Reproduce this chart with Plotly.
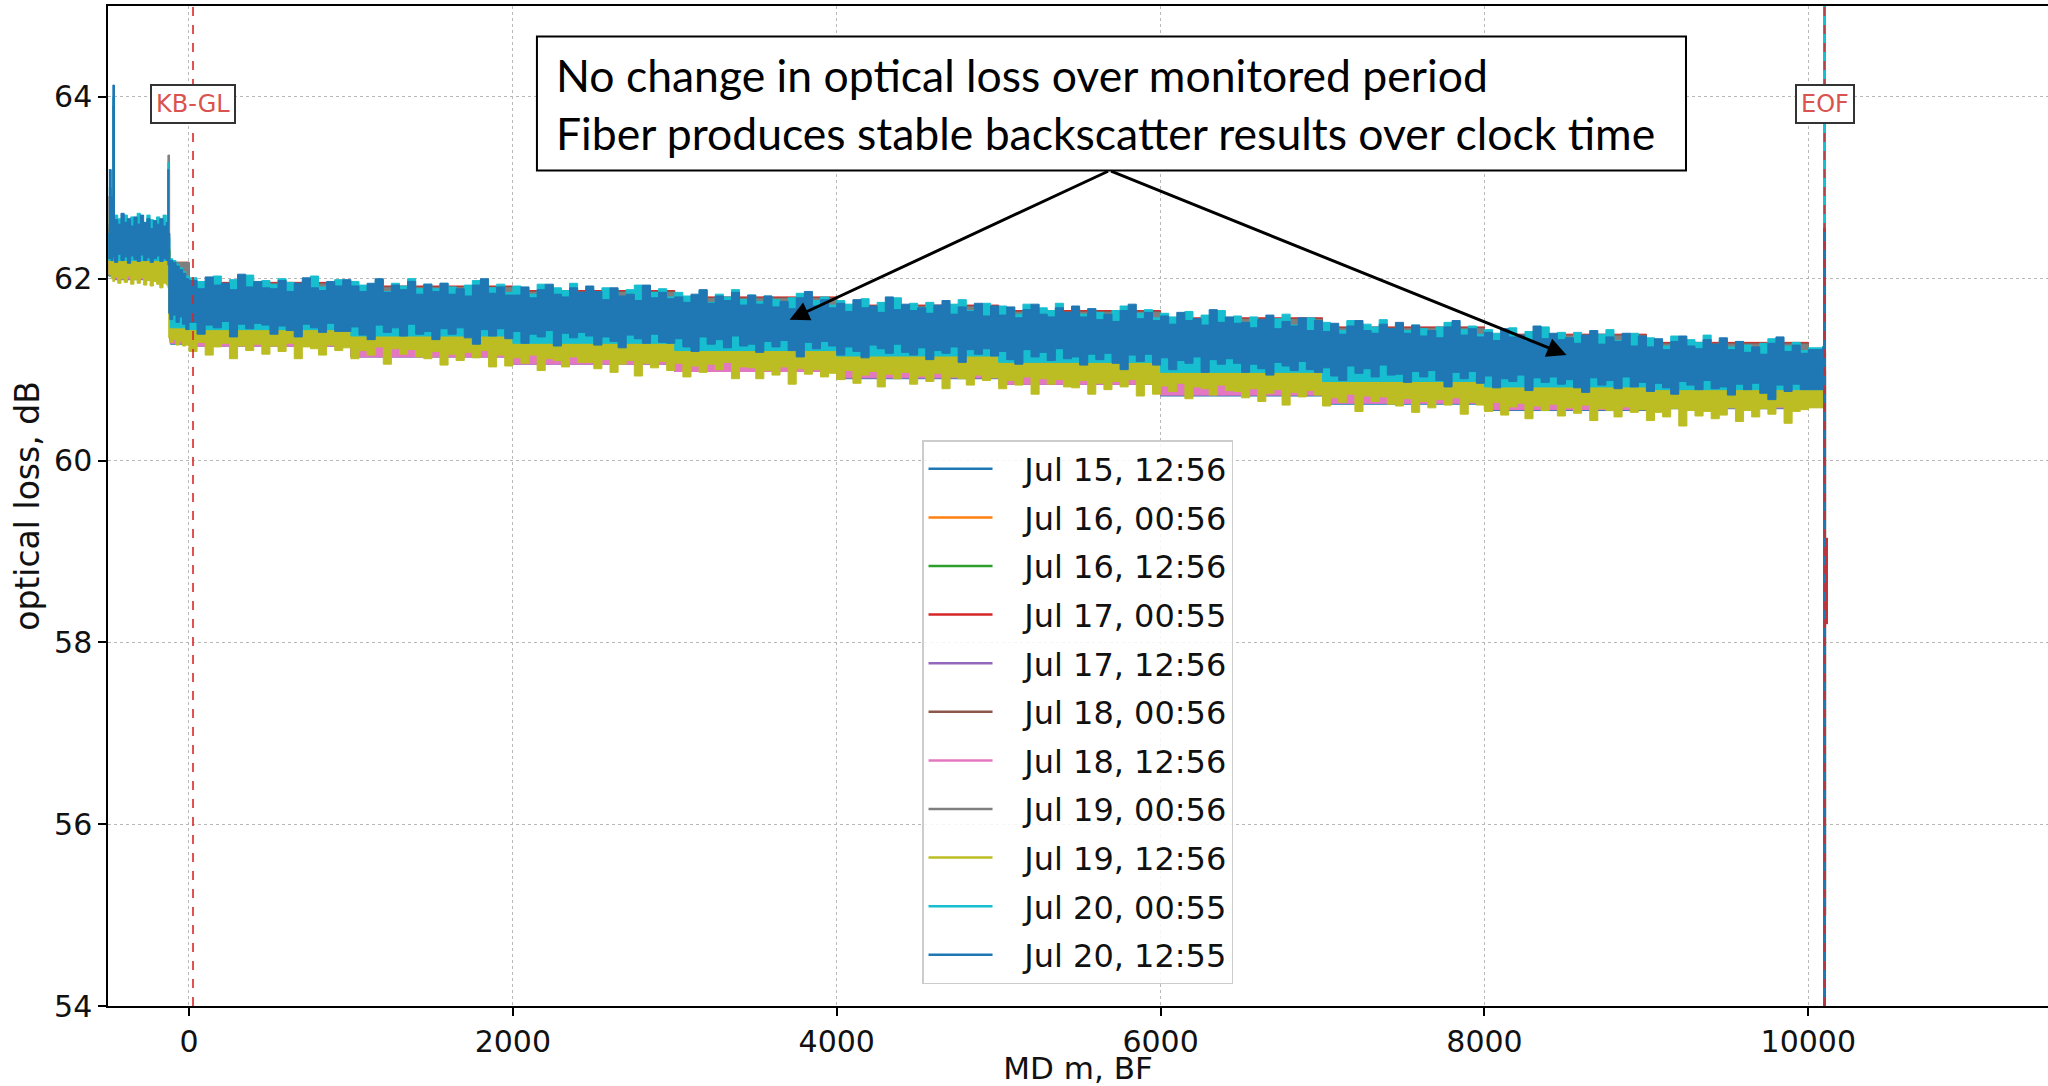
import plotly.graph_objects as go

# ---------------- data ----------------
SERIES_NAMES = ["Jul 15, 12:56", "Jul 16, 00:56", "Jul 16, 12:56", "Jul 17, 00:55",
                "Jul 17, 12:56", "Jul 18, 00:56", "Jul 18, 12:56", "Jul 19, 00:56",
                "Jul 19, 12:56", "Jul 20, 00:55", "Jul 20, 12:55"]
COLORS = ["#1f77b4", "#ff7f0e", "#2ca02c", "#d62728", "#9467bd", "#8c564b",
          "#e377c2", "#7f7f7f", "#bcbd22", "#17becf", "#1f77b4"]

X_TICKS = [0, 2000, 4000, 6000, 8000, 10000]
X_TICK_TEXT = ["0", "2000", "4000", "6000", "8000", "10000"]
Y_TICKS = [54, 56, 58, 60, 62, 64]

# fine sampling positions (MD m) for the visible envelopes
X_FINE = ([-495, -480, -470, -460, -440, -420, -400, -380, -360, -340, -320, -300,
           -280, -260, -240, -220, -200, -180, -160, -140, -130, -125, -118, -100,
           -80, -60, -40, -20] + list(range(0, 10001, 50)) + [10090])

# Jul 20, 12:55 trace: upper / lower envelope
BLUE_HI = [63.2, 62.9, 64.13, 62.65, 62.6, 62.72, 62.62, 62.66, 62.58, 62.68, 62.6, 62.7,
           62.62, 62.66, 62.55, 62.64, 62.6, 62.66, 62.58, 62.62, 63.2, 62.5, 62.2, 62.18,
           62.14, 62.1, 62.06, 62.0,
           61.98, 61.89, 62.02, 61.93, 61.95, 61.88, 62.05, 61.91, 61.97, 61.90,
           61.89, 61.98, 61.86, 61.95, 62.01, 61.90, 61.87, 61.97, 61.92, 61.99,
           61.92, 61.86, 61.95, 62.00, 61.85, 61.93, 61.88, 61.97, 61.83, 61.94,
           61.86, 61.95, 61.83, 61.89, 61.81, 61.93, 62.00, 61.84, 61.91, 61.82,
           61.82, 61.91, 61.79, 61.88, 61.94, 61.83, 61.80, 61.90, 61.85, 61.92,
           61.86, 61.77, 61.90, 61.81, 61.83, 61.76, 61.93, 61.79, 61.85, 61.78,
           61.80, 61.74, 61.83, 61.88, 61.73, 61.81, 61.76, 61.85, 61.71, 61.82,
           61.72, 61.81, 61.69, 61.75, 61.67, 61.79, 61.86, 61.70, 61.77, 61.68,
           61.73, 61.64, 61.77, 61.68, 61.70, 61.63, 61.80, 61.66, 61.72, 61.65,
           61.68, 61.62, 61.71, 61.76, 61.61, 61.69, 61.64, 61.73, 61.59, 61.70,
           61.60, 61.69, 61.57, 61.66, 61.72, 61.61, 61.58, 61.68, 61.63, 61.70,
           61.58, 61.67, 61.55, 61.61, 61.53, 61.65, 61.72, 61.56, 61.63, 61.54,
           61.59, 61.50, 61.63, 61.54, 61.56, 61.49, 61.66, 61.52, 61.58, 61.51,
           61.52, 61.46, 61.55, 61.60, 61.45, 61.53, 61.48, 61.57, 61.43, 61.54,
           61.42, 61.51, 61.39, 61.48, 61.54, 61.43, 61.40, 61.50, 61.45, 61.52,
           61.40, 61.49, 61.37, 61.43, 61.35, 61.47, 61.54, 61.38, 61.45, 61.36,
           61.41, 61.32, 61.45, 61.36, 61.38, 61.31, 61.48, 61.34, 61.40, 61.33,
           61.35, 61.29, 61.38, 61.43, 61.28, 61.36, 61.31, 61.40, 61.26, 61.37,
           61.25, 61.34, 61.22, 61.31, 61.37, 61.26, 61.23, 61.33, 61.28, 61.35,
           61.22, 61.31, 61.19, 61.25, 61.17, 61.29, 61.36, 61.20, 61.27, 61.18,
           61.22, 61.25]
BLUE_LO = [62.5, 62.22, 62.2, 62.24, 62.18, 62.27, 62.2, 62.24, 62.17, 62.25, 62.21, 62.19,
           62.26, 62.2, 62.23, 62.18, 62.22, 62.25, 62.19, 62.22, 62.2, 62.15, 61.62, 61.55,
           61.6, 61.52, 61.58, 61.5,
           61.44, 61.52, 61.39, 61.49, 61.46, 61.53, 61.36, 61.50, 61.45, 61.51,
           61.49, 61.39, 61.48, 61.43, 61.36, 61.50, 61.46, 61.41, 61.51, 61.42,
           61.42, 61.47, 61.38, 61.33, 61.49, 61.41, 61.46, 61.37, 61.50, 61.39,
           61.42, 61.33, 61.45, 61.39, 61.46, 61.35, 61.28, 61.44, 61.37, 61.45,
           61.34, 61.42, 61.29, 61.39, 61.36, 61.43, 61.26, 61.40, 61.35, 61.41,
           61.37, 61.27, 61.36, 61.31, 61.24, 61.38, 61.34, 61.29, 61.39, 61.30,
           61.29, 61.34, 61.25, 61.20, 61.36, 61.28, 61.33, 61.24, 61.37, 61.26,
           61.28, 61.19, 61.31, 61.25, 61.32, 61.21, 61.14, 61.30, 61.23, 61.31,
           61.26, 61.16, 61.25, 61.20, 61.13, 61.27, 61.23, 61.18, 61.28, 61.19,
           61.16, 61.24, 61.11, 61.21, 61.18, 61.25, 61.08, 61.22, 61.17, 61.23,
           61.15, 61.20, 61.11, 61.06, 61.22, 61.14, 61.19, 61.10, 61.23, 61.12,
           61.14, 61.05, 61.17, 61.11, 61.18, 61.07, 61.00, 61.16, 61.09, 61.17,
           61.05, 61.13, 61.00, 61.10, 61.07, 61.14, 60.97, 61.11, 61.06, 61.12,
           61.07, 60.97, 61.06, 61.01, 60.94, 61.08, 61.04, 60.99, 61.09, 61.00,
           60.97, 61.02, 60.93, 60.88, 61.04, 60.96, 61.01, 60.92, 61.05, 60.94,
           60.95, 60.86, 60.98, 60.92, 60.99, 60.88, 60.81, 60.97, 60.90, 60.98,
           60.85, 60.93, 60.80, 60.90, 60.87, 60.94, 60.77, 60.91, 60.86, 60.92,
           60.84, 60.89, 60.80, 60.75, 60.91, 60.83, 60.88, 60.79, 60.92, 60.81,
           60.86, 60.76, 60.85, 60.80, 60.73, 60.87, 60.83, 60.78, 60.88, 60.79,
           60.81, 60.72, 60.84, 60.78, 60.85, 60.74, 60.67, 60.83, 60.76, 60.84,
           60.78, 60.78]
# Jul 20, 00:55 trace: upper envelope
CYAN_HI = [63.0, 62.8, 64.0, 62.7, 62.66, 62.6, 62.7, 62.62, 62.68, 62.6, 62.72, 62.64,
           62.6, 62.7, 62.65, 62.58, 62.68, 62.62, 62.7, 62.6, 63.28, 62.45, 62.22, 62.2,
           62.16, 62.12, 62.08, 62.03,
           62.01, 61.97, 61.92, 62.03, 61.90, 61.99, 61.96, 62.04, 61.93, 61.98,
           61.94, 62.00, 61.96, 61.89, 61.98, 62.03, 61.91, 61.95, 61.99, 61.90,
           61.97, 61.93, 61.88, 61.99, 61.86, 61.95, 61.92, 62.00, 61.89, 61.94,
           61.89, 61.95, 61.91, 61.84, 61.93, 61.98, 61.86, 61.90, 61.94, 61.85,
           61.92, 61.88, 61.83, 61.94, 61.81, 61.90, 61.87, 61.95, 61.84, 61.89,
           61.84, 61.90, 61.86, 61.79, 61.88, 61.93, 61.81, 61.85, 61.89, 61.80,
           61.85, 61.81, 61.76, 61.87, 61.74, 61.83, 61.80, 61.88, 61.77, 61.82,
           61.75, 61.81, 61.77, 61.70, 61.79, 61.84, 61.72, 61.76, 61.80, 61.71,
           61.76, 61.72, 61.67, 61.78, 61.65, 61.74, 61.71, 61.79, 61.68, 61.73,
           61.68, 61.74, 61.70, 61.63, 61.72, 61.77, 61.65, 61.69, 61.73, 61.64,
           61.70, 61.66, 61.61, 61.72, 61.59, 61.68, 61.65, 61.73, 61.62, 61.67,
           61.61, 61.67, 61.63, 61.56, 61.65, 61.70, 61.58, 61.62, 61.66, 61.57,
           61.62, 61.58, 61.53, 61.64, 61.51, 61.60, 61.57, 61.65, 61.54, 61.59,
           61.52, 61.58, 61.54, 61.47, 61.56, 61.61, 61.49, 61.53, 61.57, 61.48,
           61.52, 61.48, 61.43, 61.54, 61.41, 61.50, 61.47, 61.55, 61.44, 61.49,
           61.43, 61.49, 61.45, 61.38, 61.47, 61.52, 61.40, 61.44, 61.48, 61.39,
           61.44, 61.40, 61.35, 61.46, 61.33, 61.42, 61.39, 61.47, 61.36, 61.41,
           61.35, 61.41, 61.37, 61.30, 61.39, 61.44, 61.32, 61.36, 61.40, 61.31,
           61.35, 61.31, 61.26, 61.37, 61.24, 61.33, 61.30, 61.38, 61.27, 61.32,
           61.25, 61.31, 61.27, 61.20, 61.29, 61.34, 61.22, 61.26, 61.30, 61.21,
           61.24, 61.26]
# Jul 19, 12:56 trace: lower envelope
OLIVE_LO = [62.4, 62.05, 62.0, 61.97, 62.02, 61.95, 62.0, 61.96, 62.03, 61.94, 61.99, 61.95,
            62.01, 61.93, 61.98, 61.92, 61.97, 61.94, 61.9, 61.95, 61.93, 61.9, 61.35, 61.3,
            61.33, 61.27, 61.31, 61.26,
            61.27, 61.20, 61.30, 61.16, 61.25, 61.29, 61.12, 61.26, 61.21, 61.28,
            61.17, 61.26, 61.20, 61.29, 61.12, 61.25, 61.23, 61.16, 61.27, 61.21,
            61.24, 61.12, 61.21, 61.16, 61.25, 61.06, 61.23, 61.17, 61.22, 61.14,
            61.12, 61.20, 61.05, 61.17, 61.10, 61.19, 61.13, 61.21, 61.03, 61.16,
            61.04, 61.13, 61.07, 61.16, 60.99, 61.12, 61.10, 61.03, 61.14, 61.08,
            61.08, 61.01, 61.11, 60.97, 61.06, 61.10, 60.93, 61.07, 61.02, 61.09,
            60.99, 61.07, 60.92, 61.04, 60.97, 61.06, 61.00, 61.08, 60.90, 61.03,
            61.02, 60.90, 60.99, 60.94, 61.03, 60.84, 61.01, 60.95, 61.00, 60.92,
            60.96, 60.89, 60.99, 60.85, 60.94, 60.98, 60.81, 60.95, 60.90, 60.97,
            60.84, 60.93, 60.87, 60.96, 60.79, 60.92, 60.90, 60.83, 60.94, 60.88,
            60.91, 60.79, 60.88, 60.83, 60.92, 60.73, 60.90, 60.84, 60.89, 60.81,
            60.80, 60.88, 60.73, 60.85, 60.78, 60.87, 60.81, 60.89, 60.71, 60.84,
            60.73, 60.82, 60.76, 60.85, 60.68, 60.81, 60.79, 60.72, 60.83, 60.77,
            60.76, 60.69, 60.79, 60.65, 60.74, 60.78, 60.61, 60.75, 60.70, 60.77,
            60.72, 60.60, 60.69, 60.64, 60.73, 60.54, 60.71, 60.65, 60.70, 60.62,
            60.60, 60.68, 60.53, 60.65, 60.58, 60.67, 60.61, 60.69, 60.51, 60.64,
            60.61, 60.54, 60.64, 60.50, 60.59, 60.63, 60.46, 60.60, 60.55, 60.62,
            60.49, 60.58, 60.52, 60.61, 60.44, 60.57, 60.55, 60.48, 60.59, 60.53,
            60.56, 60.44, 60.53, 60.48, 60.57, 60.38, 60.55, 60.49, 60.54, 60.46,
            60.50, 60.58, 60.43, 60.55, 60.48, 60.57, 60.51, 60.59, 60.41, 60.54,
            60.56, 60.58]

# coarse sampling positions for the (mostly hidden) envelopes
KX = [-495, -480, -470, -460, -140, -130, -120, -115, 0, 1000, 2000, 3000, 4000,
      5000, 6000, 7000, 8000, 9000, 10000, 10090]
CYAN_LO = [62.5, 62.2, 62.2, 62.2, 62.2, 62.2, 62.2, 61.6, 61.46, 61.44, 61.37, 61.29,
           61.21, 61.15, 61.08, 60.97, 60.87, 60.81, 60.78, 60.78]
ORANGE_HI = [62.9, 62.6, 63.9, 62.6, 62.6, 63.2, 62.28, 62.18, 61.94, 61.90, 61.85, 61.78,
             61.69, 61.63, 61.55, 61.45, 61.37, 61.28, 61.19, 61.19]
ORANGE_LO = [62.55, 62.26, 62.26, 62.26, 62.26, 62.26, 62.26, 61.66, 61.52, 61.50, 61.43, 61.35,
             61.27, 61.21, 61.14, 61.03, 60.93, 60.87, 60.84, 60.84]
RED_HI = [62.9, 62.6, 63.9, 62.6, 62.6, 63.2, 62.28, 62.18, 61.96, 61.92, 61.87, 61.80,
          61.71, 61.65, 61.57, 61.47, 61.39, 61.30, 61.21, 61.21]
RED_LO = [62.55, 62.25, 62.25, 62.25, 62.25, 62.25, 62.25, 61.65, 61.51, 61.49, 61.42, 61.34,
          61.26, 61.2, 61.13, 61.02, 60.92, 60.86, 60.83, 60.83]
BROWN_HI = [62.9, 62.6, 63.9, 62.6, 62.6, 63.2, 62.28, 62.18, 61.95, 61.91, 61.86, 61.79,
            61.70, 61.64, 61.56, 61.46, 61.38, 61.29, 61.20, 61.20]
BROWN_LO = [62.56, 62.27, 62.27, 62.27, 62.27, 62.27, 62.27, 61.67, 61.53, 61.51, 61.44, 61.36,
            61.28, 61.22, 61.15, 61.04, 60.94, 60.88, 60.85, 60.85]
GRAY_HI = [62.9, 62.6, 63.9, 62.6, 62.6, 63.36, 62.28, 62.18, 61.94, 61.90, 61.85, 61.78,
           61.69, 61.63, 61.55, 61.45, 61.37, 61.28, 61.19, 61.19]
GRAY_LO = [62.55, 62.26, 62.26, 62.26, 62.26, 62.26, 62.26, 61.66, 61.52, 61.5, 61.43, 61.35,
           61.27, 61.21, 61.14, 61.03, 60.93, 60.87, 60.84, 60.84]
OLIVE_HI = [62.7, 62.32, 62.32, 62.32, 62.32, 62.32, 62.32, 61.72, 61.58, 61.56, 61.49, 61.41,
            61.33, 61.27, 61.2, 61.09, 60.99, 60.93, 60.9, 60.9]
JUL15_HI = [62.6, 62.28, 62.28, 62.28, 62.28, 62.28, 62.28, 61.68, 61.54, 61.52, 61.45, 61.37,
            61.29, 61.23, 61.16, 61.05, 60.95, 60.89, 60.86, 60.86]
JUL15_LO = [62.44, 62.03, 62.03, 62.0, 61.99, 61.97, 61.93, 61.33, 61.28, 61.26, 61.14, 61.06,
            60.98, 60.9, 60.84, 60.71, 60.62, 60.55, 60.57, 60.59]
GREEN_HI = [62.6, 62.28, 62.28, 62.28, 62.28, 62.28, 62.28, 61.68, 61.54, 61.52, 61.45, 61.37,
            61.29, 61.23, 61.16, 61.05, 60.95, 60.89, 60.86, 60.86]
GREEN_LO = [62.46, 62.03, 62.05, 62.03, 62.01, 61.99, 61.96, 61.38, 61.3, 61.27, 61.15, 61.07,
            60.99, 60.92, 60.85, 60.73, 60.64, 60.57, 60.59, 60.61]
PURPLE_HI = [62.6, 62.28, 62.28, 62.28, 62.28, 62.28, 62.28, 61.68, 61.54, 61.52, 61.45, 61.37,
             61.29, 61.23, 61.16, 61.05, 60.95, 60.89, 60.86, 60.86]
PURPLE_LO = [62.45, 62.05, 62.04, 62.02, 61.99, 61.97, 61.95, 61.37, 61.29, 61.26, 61.14, 61.07,
             60.98, 60.91, 60.84, 60.72, 60.63, 60.56, 60.58, 60.6]
PINK_HI = [62.6, 62.28, 62.28, 62.28, 62.28, 62.28, 62.28, 61.68, 61.54, 61.52, 61.45, 61.37,
           61.29, 61.23, 61.16, 61.05, 60.95, 60.89, 60.86, 60.86]
PINK_LO = [62.45, 62.04, 62.04, 62.01, 62.0, 61.98, 61.95, 61.37, 61.29, 61.26, 61.14, 61.06,
           60.98, 60.91, 60.84, 60.72, 60.63, 60.56, 60.58, 60.6]

# end-of-fibre drop/spike of each trace
END_X = [10100, 10100, 10100, 10112, 10100, 10100, 10100, 10100, 10100, 10100, 10100]
END_HI = [61.0, 61.2, 61.0, 59.15, 61.0, 61.2, 61.0, 61.2, 60.9, 66.0, 62.56]
END_LO = [55.0, 55.0, 55.2, 58.2, 55.0, 55.0, 55.0, 55.0, 55.0, 54.5, 50.0]

MARKERS = ["KB-GL", "EOF"]
MARKER_X = [25, 10100]
MARKER_LABEL_Y = 63.92

NOTE_TEXT = ("No change in optical loss over monitored period<br>"
             "Fiber produces stable backscatter results over clock time")
ARROW_TAIL = (5685, 63.19)
ARROW_HEADS_X = [3709, 8507]
ARROW_HEADS_Y = [61.55, 61.16]

# ---------------- envelopes per series ----------------
envelopes = [
    (KX, JUL15_HI, KX, JUL15_LO),
    (KX, ORANGE_HI, KX, ORANGE_LO),
    (KX, GREEN_HI, KX, GREEN_LO),
    (KX, RED_HI, KX, RED_LO),
    (KX, PURPLE_HI, KX, PURPLE_LO),
    (KX, BROWN_HI, KX, BROWN_LO),
    (KX, PINK_HI, KX, PINK_LO),
    (KX, GRAY_HI, KX, GRAY_LO),
    (KX, OLIVE_HI, X_FINE, OLIVE_LO),
    (X_FINE, CYAN_HI, KX, CYAN_LO),
    (X_FINE, BLUE_HI, X_FINE, BLUE_LO),
]

FONT = "DejaVu Sans"
fig = go.Figure()

for i, (name, col) in enumerate(zip(SERIES_NAMES, COLORS)):
    xh, yh, xl, yl = envelopes[i]
    px = list(xh) + list(reversed(xl))
    py = list(yh) + list(reversed(yl))
    fig.add_trace(go.Scatter(x=px, y=py, mode="lines", fill="toself", fillcolor=col,
                             line=dict(color=col, width=1, shape="hv"), showlegend=False,
                             hoverinfo="skip"))
    fig.add_trace(go.Scatter(x=[END_X[i], END_X[i]], y=[END_HI[i], END_LO[i]], mode="lines",
                             line=dict(color=col, width=3), showlegend=False,
                             hoverinfo="skip"))

# legend entries
for i, (name, col) in enumerate(zip(SERIES_NAMES, COLORS)):
    fig.add_trace(go.Scatter(x=[None], y=[None], mode="lines",
                             name="\u00a0\u00a0\u2009" + name,
                             line=dict(color=col, width=2.5), legendgroup=f"g{i}"))

# marker lines + labels
for name, mx in zip(MARKERS, MARKER_X):
    fig.add_shape(type="line", x0=mx, x1=mx, y0=0, y1=1, xref="x", yref="paper",
                  line=dict(color="rgba(214,39,40,0.8)", width=2, dash="dash"), layer="above")
    fig.add_annotation(x=mx, y=MARKER_LABEL_Y, text=name, showarrow=False,
                       font=dict(family=FONT, size=24, color="#d9534f"),
                       bgcolor="white", bordercolor="#333333", borderwidth=2, borderpad=4)

# callout box
fig.add_shape(type="rect", xref="paper", yref="paper", x0=0.2211, x1=0.8134,
              y0=0.8354, y1=0.9695, line=dict(color="black", width=2),
              fillcolor="white", layer="above")
fig.add_annotation(xref="paper", yref="paper", x=0.2298, y=0.902, xanchor="left",
                   yanchor="middle", align="left", text=NOTE_TEXT, showarrow=False,
                   font=dict(family="Lato", size=44.5, color="black"))
for hx, hy in zip(ARROW_HEADS_X, ARROW_HEADS_Y):
    fig.add_annotation(x=hx, y=hy, ax=ARROW_TAIL[0], ay=ARROW_TAIL[1], axref="x", ayref="y",
                       xref="x", yref="y", text="", showarrow=True, arrowhead=2,
                       arrowsize=1.3, arrowwidth=3, arrowcolor="black")

axis_common = dict(showline=True, linecolor="black", linewidth=1.5, ticks="outside",
                   ticklen=8, tickwidth=1.5, tickcolor="black", showgrid=True,
                   gridcolor="#b8b8b8", griddash="dot", gridwidth=1, zeroline=False,
                   automargin=False,
                   tickfont=dict(family=FONT, size=30, color="#111"))
fig.update_xaxes(range=[-500, 11480], tickvals=X_TICKS, ticktext=X_TICK_TEXT, mirror=True,
                 title=dict(text="MD m, BF", font=dict(family=FONT, size=31, color="#111"),
                            standoff=13), **axis_common)
fig.update_yaxes(range=[54, 65], tickvals=Y_TICKS, mirror=False,
                 title=dict(text="optical loss, dB", font=dict(family=FONT, size=33, color="#111"),
                            standoff=5), **axis_common)

fig.update_layout(
    width=2048, height=1086, margin=dict(l=108, r=0, t=6, b=80),
    paper_bgcolor="white", plot_bgcolor="white",
    font=dict(family=FONT, color="#111"),
    legend=dict(x=0.4196, y=0.566, xanchor="left", yanchor="top", traceorder="grouped",
                tracegroupgap=4, itemwidth=64, bgcolor="rgba(255,255,255,0.85)",
                bordercolor="#cccccc", borderwidth=1.5,
                font=dict(family=FONT, size=32, color="#111")),
    showlegend=True,
)

fig.write_html("out.html")
